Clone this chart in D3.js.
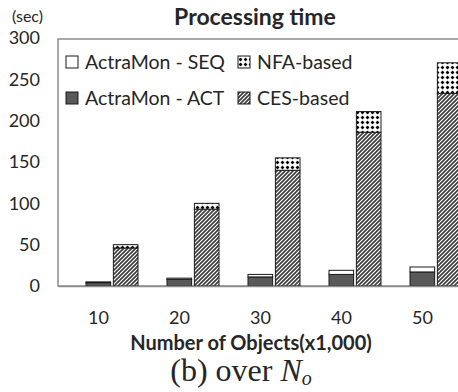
<!DOCTYPE html>
<html>
<head>
<meta charset="utf-8">
<script src="https://cdn.jsdelivr.net/npm/d3@7"></script>
<style>
  body { margin: 0; background: #fff; }
  text { font-family: Lato, "Open Sans", sans-serif; fill: #262626; }
</style>
</head>
<body>
<script>
// categories (x1,000 objects)
var categories = ["10", "20", "30", "40", "50"];
// stacked values in seconds
var actValues = [4, 8, 11, 14, 17];
var seqValues = [1, 1.5, 3, 5, 6];
var cesValues = [46, 93, 140, 186, 233];
var nfaValues = [4, 7, 15, 25, 37];
var yTicks = [0, 50, 100, 150, 200, 250, 300];

(function() {
  'use strict';

  var w = 458, h = 392;
  var plotLeft = 58, plotRight = 463, plotTop = 39, plotBottom = 286;

  var svg = d3.select("body").append("svg")
    .attr("width", w)
    .attr("height", h);

  // fill patterns
  var defs = svg.append("defs");
  var ces = defs.append("pattern")
    .attr("id", "ces")
    .attr("width", 4).attr("height", 4)
    .attr("patternUnits", "userSpaceOnUse");
  ces.append("rect").attr("width", 4).attr("height", 4).attr("fill", "#fff");
  ces.append("path")
    .attr("d", "M-1,1 L1,-1 M0,4 L4,0 M3,5 L5,3")
    .attr("stroke", "#3a3a3a")
    .attr("stroke-width", 1.6);

  var nfa = defs.append("pattern")
    .attr("id", "nfa")
    .attr("width", 5).attr("height", 5)
    .attr("patternUnits", "userSpaceOnUse");
  nfa.append("rect").attr("width", 5).attr("height", 5).attr("fill", "#fff");
  nfa.append("path")
    .attr("d", "M0,2.5 H5 M2.5,0 V5")
    .attr("stroke", "#bbb")
    .attr("stroke-width", 0.6);
  nfa.append("path")
    .attr("d", "M1,2.5 H4 M2.5,1 V4")
    .attr("stroke", "#000")
    .attr("stroke-width", 1.6);

  var rows = categories.map(function(c, i) {
    return { cat: c, ACT: actValues[i], SEQ: seqValues[i], CES: cesValues[i], NFA: nfaValues[i] };
  });

  var x0 = d3.scaleBand()
    .domain(categories)
    .range([plotLeft, plotRight]);

  var x1 = d3.scaleBand()
    .domain(["a", "b"])
    .range([28, 80])
    .paddingInner(0.1);

  var y = d3.scaleLinear()
    .domain([0, 300])
    .range([plotBottom, plotTop - 1]);

  // plot area frame
  svg.append("rect")
    .attr("x", plotLeft).attr("y", plotTop)
    .attr("width", plotRight - plotLeft).attr("height", plotBottom - plotTop)
    .attr("fill", "none")
    .attr("stroke", "#8c8c8c")
    .attr("stroke-width", 1.5);

  var fills = { ACT: "#595959", SEQ: "#fff", CES: "url(#ces)", NFA: "url(#nfa)" };

  function drawStack(keys, slot) {
    var series = d3.stack().keys(keys)(rows);
    svg.append("g").selectAll("g")
      .data(series)
      .enter()
      .append("g")
      .attr("fill", function(d) { return fills[d.key]; })
      .selectAll("rect")
      .data(function(d) { return d; })
      .enter()
      .append("rect")
      .attr("x", function(d) { return x0(d.data.cat) + x1(slot); })
      .attr("y", function(d) { return y(d[1]); })
      .attr("width", x1.bandwidth())
      .attr("height", function(d) { return y(d[0]) - y(d[1]); })
      .attr("stroke", "#1a1a1a")
      .attr("stroke-width", 1);
  }
  drawStack(["ACT", "SEQ"], "a");
  drawStack(["CES", "NFA"], "b");

  // axes
  var xAxis = svg.append("g")
    .attr("transform", "translate(0," + plotBottom + ")")
    .call(d3.axisBottom(x0).tickSize(0).tickPadding(25));
  xAxis.select(".domain").attr("stroke", "#8c8c8c").attr("stroke-width", 1.5);
  xAxis.selectAll("text").style("font-size", "18px").style("font-family", "Lato").attr("fill", "#262626");

  var yAxis = svg.append("g")
    .attr("transform", "translate(" + plotLeft + ",0)")
    .call(d3.axisLeft(y).tickValues(yTicks).tickSize(0).tickPadding(18));
  yAxis.select(".domain").remove();
  yAxis.selectAll("text").style("font-size", "18px").style("font-family", "Lato").attr("fill", "#262626");

  // titles
  svg.append("text")
    .attr("x", 255).attr("y", 25)
    .attr("text-anchor", "middle")
    .style("font-size", "23px")
    .style("font-weight", "bold")
    .text("Processing time");

  svg.append("text")
    .attr("x", 12).attr("y", 22)
    .style("font-size", "16px")
    .text("(sec)");

  svg.append("text")
    .attr("x", 251).attr("y", 350)
    .attr("text-anchor", "middle")
    .style("font-size", "20px")
    .style("font-weight", "bold")
    .text("Number of Objects(x1,000)");

  var cap = svg.append("text")
    .attr("x", 241).attr("y", 381)
    .attr("text-anchor", "middle")
    .style("font-family", "'Liberation Serif', 'DejaVu Serif', serif")
    .style("font-size", "32px")
    .attr("fill", "#111");
  cap.append("tspan").text("(b) over ");
  cap.append("tspan").style("font-style", "italic").text("N");
  cap.append("tspan").style("font-style", "italic").style("font-size", "20px").attr("dy", 4).text("o");

  // legend
  var legend = [
    { key: "SEQ", label: "ActraMon - SEQ", x: 66, y: 62 },
    { key: "ACT", label: "ActraMon - ACT", x: 66, y: 98 },
    { key: "NFA", label: "NFA-based", x: 238, y: 62 },
    { key: "CES", label: "CES-based", x: 238, y: 98 }
  ];
  var lg = svg.append("g").selectAll("g")
    .data(legend)
    .enter()
    .append("g")
    .attr("transform", function(d) { return "translate(" + d.x + "," + d.y + ")"; });
  lg.append("rect")
    .attr("x", 0).attr("y", -6)
    .attr("width", 12).attr("height", 12)
    .attr("fill", function(d) { return fills[d.key]; })
    .attr("stroke", "#1a1a1a")
    .attr("stroke-width", 1);
  lg.append("text")
    .attr("x", 19).attr("y", 7)
    .style("font-size", "19.5px")
    .text(function(d) { return d.label; });
})();
</script>
</body>
</html>
